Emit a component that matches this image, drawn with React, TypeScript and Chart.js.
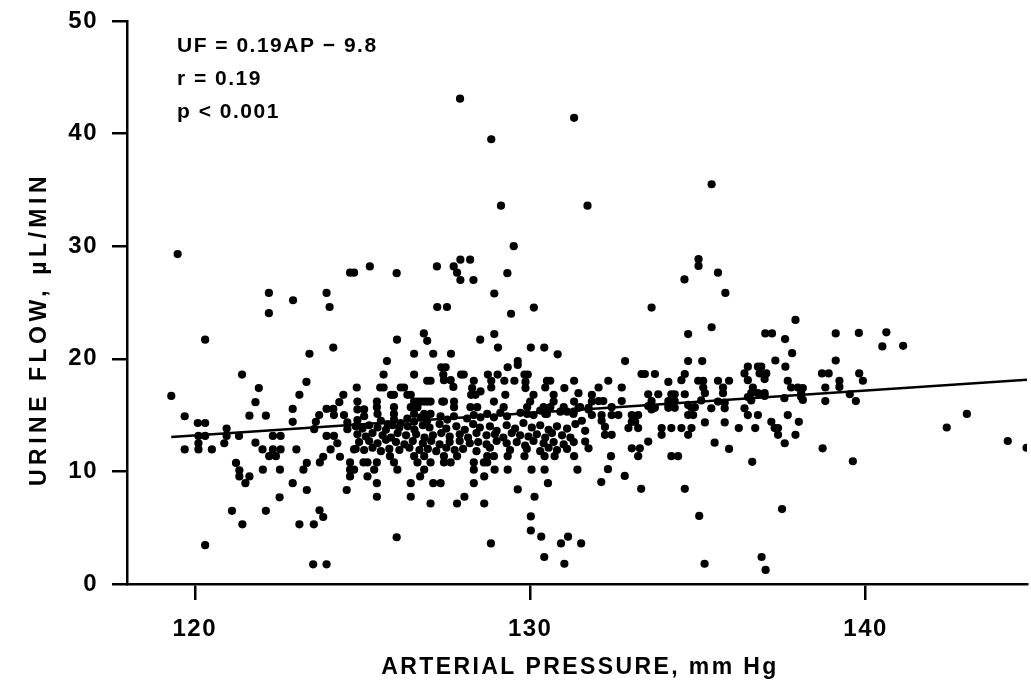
import React, { useEffect, useRef } from "react";
import { Chart, registerables } from "chart.js";

Chart.register(...registerables);

// Axis ticks and labels
const xTicks = [120, 130, 140];
const yTicks = [0, 10, 20, 30, 40, 50];
const xTitle = "ARTERIAL PRESSURE, mm Hg";
const yTitle = "URINE FLOW, µL/MIN";
const statLines = ["UF = 0.19AP − 9.8", "r = 0.19", "p < 0.001"];

// Regression line end points [AP, UF]
const fitX = [119.3, 144.85];
const fitY = [13.05, 18.15];

// Scatter points [arterial pressure, urine flow]
const highPoints: [number, number][] = [
  [127.91, 43.1], [131.31, 41.4], [128.84, 39.5], [135.41, 35.5], [129.13, 33.6], [131.71, 33.6],
  [129.51, 30.0], [119.49, 29.3],
  [124.63, 27.65], [124.75, 27.65], [125.22, 28.2], [126.02, 27.6], [127.22, 28.2], [127.72, 28.2],
  [127.82, 27.65], [127.92, 28.8], [128.21, 28.8], [127.92, 27.0], [128.31, 27.0], [129.32, 27.6],
  [135.02, 28.85], [135.02, 28.25], [135.6, 27.65], [134.6, 27.05], [135.82, 25.85],
  [122.21, 25.85], [122.21, 24.05], [122.93, 25.2], [123.93, 25.85], [124.02, 24.6], [128.93, 25.8],
  [127.23, 24.6], [127.52, 24.6], [129.43, 24.0], [130.11, 24.55], [133.62, 24.55], [137.91, 23.45],
  [135.41, 22.8],
  [120.31, 21.7], [126.03, 21.7], [126.83, 22.25], [126.93, 21.6], [128.51, 21.7], [128.93, 22.2],
  [134.71, 22.2], [137.01, 22.25], [137.21, 22.25], [137.6, 21.75], [139.11, 22.25], [139.8, 22.3],
  [140.62, 22.35], [140.5, 21.1], [141.12, 21.15],
  [123.42, 20.45], [124.13, 21.0], [129.04, 21.0], [130.02, 21.0], [130.42, 21.0], [130.82, 20.4],
  [126.54, 20.45], [127.11, 20.45], [127.64, 20.45], [137.81, 20.5],
];

const leftCluster: [number, number][] = [
  [119.3, 16.7], [119.7, 14.9], [120.09, 14.3], [120.31, 14.3], [121.41, 18.6], [121.91, 17.4],
  [121.81, 16.15], [121.63, 14.95], [122.12, 14.95], [123.33, 17.95], [123.12, 16.8], [122.92, 15.55],
  [122.92, 14.4], [123.71, 15.0], [123.61, 14.4], [123.56, 13.75], [123.93, 15.55], [124.13, 15.55],
  [124.31, 16.15], [124.43, 16.8], [124.15, 15.0], [124.45, 15.0], [124.55, 14.35], [124.55, 13.75],
  [120.95, 13.8], [120.95, 13.15], [120.88, 12.5], [120.11, 13.15], [120.11, 12.5], [120.11, 11.95],
  [120.31, 13.15], [119.7, 11.95], [120.51, 11.95], [121.32, 13.15], [121.81, 12.55], [122.33, 13.15],
  [122.56, 13.15], [122.02, 11.95], [122.33, 11.95], [122.56, 11.95], [123.03, 11.95], [123.93, 13.15],
  [124.15, 13.15], [124.05, 11.95], [124.25, 12.5], [124.75, 11.95],
];

const centerUpper: [number, number][] = [
  [125.73, 19.8], [129.63, 19.8], [129.63, 19.45], [129.33, 19.25], [125.63, 18.6], [126.54, 18.6],
  [127.35, 19.25], [127.48, 19.25], [127.41, 18.6], [127.43, 18.1], [127.63, 18.1], [127.71, 17.5],
  [127.94, 18.6], [128.02, 18.6], [126.93, 18.05], [127.03, 18.05], [128.74, 18.6], [129.03, 18.6],
  [128.84, 18.05], [129.23, 18.05], [129.53, 18.05], [129.83, 18.6], [129.93, 18.6], [129.86, 17.95],
  [129.86, 17.4], [130.5, 18.05], [130.6, 18.05], [130.45, 17.45], [131.31, 18.05], [131.02, 17.4],
  [128.32, 18.05], [128.27, 17.4], [124.83, 17.45], [125.53, 17.45], [125.63, 17.45], [126.14, 17.45],
  [126.24, 17.45], [128.84, 17.45], [128.24, 16.8], [128.37, 16.8], [128.52, 17.1], [129.26, 16.8],
  [130.1, 16.8], [130.0, 16.2], [130.7, 16.8], [130.7, 16.2], [125.85, 16.8], [125.94, 16.8],
  [126.34, 16.8], [126.44, 16.8],
  [126.54, 16.2], [126.64, 16.2], [126.74, 16.2], [126.84, 16.2], [126.93, 16.2], [127.03, 16.2],
  [127.38, 16.2], [127.43, 16.2], [127.73, 16.2], [124.85, 16.2], [125.43, 16.2], [128.92, 16.2],
  [131.31, 16.2],
  [125.43, 15.7], [125.45, 15.1], [124.85, 15.5], [125.05, 15.5], [125.94, 15.7], [125.94, 15.1],
  [126.44, 15.7], [126.64, 15.7], [126.54, 15.1], [126.84, 15.1], [127.03, 15.1], [127.73, 15.7],
  [128.22, 15.7], [128.42, 15.7], [129.21, 15.7], [129.91, 15.7], [129.91, 15.1], [130.4, 15.7],
  [130.6, 15.7], [130.45, 15.1], [131.0, 15.7], [131.1, 15.3], [131.3, 15.3], [131.49, 15.7],
  [125.05, 14.9], [124.85, 14.55],
];

const centerLine: [number, number][] = [
  [125.55, 14.5], [125.75, 14.2], [125.94, 14.6], [126.14, 14.3], [126.34, 14.7], [126.54, 14.4],
  [126.74, 14.8], [126.93, 14.5], [127.33, 14.9], [127.53, 14.6], [127.73, 14.9], [128.12, 14.7],
  [128.32, 15.0], [128.52, 14.8], [128.72, 15.1], [128.92, 14.8], [129.11, 15.2], [129.31, 14.9],
  [129.71, 15.2], [130.1, 15.0], [130.3, 15.4], [130.5, 15.1], [130.9, 15.3], [131.29, 15.1],
];

const centerLower: [number, number][] = [
  [124.8, 14.0], [125.0, 13.8], [125.2, 14.1], [125.45, 13.9], [125.7, 13.7], [125.9, 14.1],
  [126.1, 13.9], [126.35, 14.0], [126.55, 13.7], [126.8, 14.1], [127.0, 13.9], [127.3, 14.2],
  [127.5, 13.8], [127.8, 14.0], [128.05, 13.7], [128.3, 14.2], [128.5, 13.9], [128.8, 14.0],
  [129.0, 13.6], [129.3, 14.1], [129.55, 13.8], [129.8, 14.3], [130.05, 13.9], [130.3, 14.1],
  [130.55, 13.7], [130.8, 14.0], [131.1, 13.8], [131.35, 14.2],
  [124.85, 13.3], [125.1, 13.1], [125.3, 13.4], [125.6, 13.2], [125.85, 13.0], [126.05, 13.4],
  [126.3, 13.2], [126.6, 13.3], [126.85, 13.0], [127.1, 13.2], [127.35, 13.4], [127.6, 13.1],
  [127.9, 13.3], [128.15, 13.0], [128.4, 13.4], [128.7, 13.2], [128.95, 13.3], [129.2, 13.0],
  [129.45, 13.4], [129.7, 13.2], [129.95, 13.1], [130.2, 13.3], [130.45, 13.0], [130.65, 13.4],
  [130.95, 13.2], [131.2, 13.0],
  [124.9, 12.6], [125.2, 12.7], [125.45, 12.5], [125.7, 12.8], [126.0, 12.6], [126.25, 12.4],
  [126.5, 12.7], [126.8, 12.5], [127.05, 12.7], [127.3, 12.4], [127.6, 12.6], [127.9, 12.7],
  [128.2, 12.5], [128.45, 12.6], [128.7, 12.4], [129.0, 12.7], [129.3, 12.5], [129.6, 12.6],
  [129.85, 12.3], [130.1, 12.7], [130.4, 12.5], [130.7, 12.6], [131.0, 12.4], [131.3, 12.6],
  [124.8, 12.0], [125.05, 11.9], [125.3, 12.1], [125.55, 11.8], [125.8, 12.0], [126.1, 11.9],
  [126.4, 12.1], [126.7, 11.9], [126.95, 12.0], [127.2, 11.8], [127.5, 12.1], [127.75, 11.9],
  [128.0, 12.0], [128.4, 11.8], [128.8, 12.1], [129.4, 11.9], [129.9, 12.0], [130.3, 11.8],
  [130.55, 12.1], [130.8, 11.9], [131.1, 12.0],
];

const rightCluster: [number, number][] = [
  [132.83, 19.8], [134.71, 19.8], [135.13, 19.8], [137.31, 19.85], [137.61, 19.3], [136.49, 19.3],
  [136.39, 18.7], [136.79, 19.3], [136.89, 19.3], [136.84, 18.7], [137.04, 18.7], [136.99, 18.2],
  [133.32, 18.65], [133.42, 18.65], [133.72, 18.65], [134.61, 18.65], [134.51, 18.1], [132.33, 18.05],
  [134.12, 17.95], [135.01, 18.05], [135.16, 18.05], [135.16, 17.45], [135.21, 16.95], [135.6, 18.05],
  [135.93, 18.05], [135.75, 17.45], [135.75, 16.95], [136.49, 18.1], [136.64, 17.45], [136.59, 16.95],
  [136.79, 16.95], [136.99, 16.95], [137.68, 18.05], [137.78, 17.45], [137.98, 17.45], [138.08, 16.95],
  [132.04, 17.45], [132.73, 17.45], [131.44, 16.95], [131.84, 16.8], [131.84, 16.2], [132.04, 16.25],
  [132.18, 16.25], [132.73, 16.25], [133.52, 16.85], [133.82, 16.85], [133.62, 16.25], [133.72, 15.65],
  [134.21, 16.85], [134.31, 16.85], [134.61, 16.85], [134.12, 16.25], [134.31, 16.25],
  [131.44, 15.65], [131.74, 15.65], [131.84, 15.0], [134.12, 15.65], [134.31, 15.65], [134.81, 15.65],
  [134.86, 15.0], [134.71, 15.0], [135.4, 15.6], [135.8, 15.6], [136.39, 15.6], [136.49, 15.0],
  [132.13, 15.0], [132.43, 15.0], [132.63, 15.0], [133.03, 15.0], [133.22, 15.0],
  [133.03, 14.4], [133.13, 14.4], [135.21, 14.35], [135.8, 14.35], [136.79, 15.0], [137.19, 14.4],
  [137.29, 13.85], [137.68, 15.0], [138.01, 14.4], [136.22, 13.85], [136.71, 13.85], [137.39, 13.85],
  [137.39, 13.25], [137.59, 12.5], [137.91, 13.25],
  [132.93, 13.85], [133.22, 13.85], [132.43, 13.25], [132.23, 13.25], [133.92, 13.85], [134.21, 13.85],
  [134.51, 13.85], [134.81, 13.85], [133.92, 13.25], [134.71, 13.25],
  [131.64, 12.65], [131.74, 12.05], [133.52, 12.65], [133.27, 12.05], [133.03, 12.05], [135.5, 12.55],
  [135.93, 12.0], [131.54, 14.5], [132.13, 14.5], [132.23, 13.95], [131.64, 13.6],
  [131.74, 15.5], [132.43, 15.7], [133.52, 15.8], [133.62, 15.5], [134.12, 15.9], [134.71, 15.9],
  [134.91, 15.7], [135.1, 16.3], [135.6, 16.2], [135.8, 16.1], [136.49, 16.6], [136.59, 16.3],
  [136.99, 16.7], [137.58, 16.5], [138.08, 16.6],
];

const farRight: [number, number][] = [
  [139.11, 19.85], [138.7, 18.7], [138.9, 18.7], [139.81, 18.7], [139.92, 18.05], [139.22, 18.05],
  [139.22, 17.5], [138.8, 17.45], [138.13, 17.4], [138.13, 16.35], [139.53, 16.85], [138.8, 16.25],
  [139.71, 16.25], [143.02, 15.1], [142.42, 13.9], [144.24, 12.7], [144.8, 12.1], [138.72, 12.05],
  [139.62, 10.9],
];

const lowPoints: [number, number][] = [
  [120.31, 3.45], [123.53, 1.75], [123.93, 1.75], [121.11, 6.5], [122.12, 6.5], [121.42, 5.3],
  [123.12, 5.3], [123.55, 5.3], [123.72, 6.55], [123.83, 5.95], [122.53, 7.7], [122.92, 8.95],
  [123.34, 8.35], [124.53, 8.35], [121.23, 10.75], [121.33, 10.1], [121.33, 9.55], [121.51, 8.95],
  [121.63, 9.55], [122.03, 10.15], [122.54, 10.15], [123.24, 10.15], [123.34, 10.75], [123.73, 10.8],
  [123.83, 11.3], [124.33, 11.3], [124.63, 10.8], [124.63, 10.15], [124.63, 9.55], [124.75, 10.15],
  [122.22, 11.35], [122.42, 11.35],
  [126.02, 4.15], [128.83, 3.6], [130.02, 6.0], [130.02, 4.75], [130.33, 4.2], [130.42, 2.4],
  [130.92, 3.6], [131.13, 4.2], [131.02, 1.8], [129.63, 8.4], [130.13, 7.75], [127.03, 7.15],
  [127.82, 7.15], [128.04, 7.75], [128.63, 7.15], [125.43, 7.75], [126.44, 7.75], [125.43, 8.95],
  [126.44, 8.95], [127.11, 8.95], [127.33, 8.95], [128.32, 8.95], [130.53, 8.95], [125.15, 9.55],
  [126.72, 9.55], [128.63, 9.55], [125.35, 10.15], [126.04, 10.15], [126.84, 10.15], [128.32, 10.15],
  [128.94, 10.15], [129.33, 10.15], [130.04, 10.15], [130.43, 10.15], [131.41, 10.15],
  [125.03, 10.8], [125.15, 10.8], [125.43, 10.8], [125.94, 10.8], [126.64, 10.8], [127.03, 10.8],
  [127.43, 10.8], [127.63, 10.8], [128.32, 10.8], [128.62, 10.8], [128.72, 10.8],
  [125.82, 11.35], [126.54, 11.35], [126.84, 11.35], [127.43, 11.35], [127.82, 11.35], [128.72, 11.35],
  [128.92, 11.35], [129.33, 11.35], [129.83, 11.35], [130.43, 11.35], [130.73, 11.35], [131.31, 11.35],
  [132.41, 11.35], [133.22, 11.35], [134.21, 11.35], [134.41, 11.35], [136.62, 10.85], [132.32, 10.2],
  [132.82, 9.6], [132.12, 9.05], [133.31, 8.45], [134.61, 8.45], [137.51, 6.65], [135.04, 6.05],
  [131.52, 3.6], [136.9, 2.4], [135.2, 1.8], [137.02, 1.25],
];

const FONT = '"Liberation Sans", Arial, sans-serif';

const textPlugin = {
  id: "textPlugin",
  beforeDraw(chart: any) {
    (chart.ctx as any).letterSpacing = "1.5px";
  },
  afterDraw(chart: any) {
    const ctx = chart.ctx as CanvasRenderingContext2D;
    ctx.save();
    ctx.fillStyle = "#000";
    ctx.textBaseline = "middle";
    (ctx as any).letterSpacing = "1.5px";
    ctx.font = `bold 21px ${FONT}`;
    ctx.textAlign = "left";
    statLines.forEach((t, i) => ctx.fillText(t, 177, 46 + i * 33));
    (ctx as any).letterSpacing = "2.4px";
    ctx.font = `bold 23px ${FONT}`;
    ctx.textAlign = "center";
    ctx.fillText(xTitle, 580, 668);
    ctx.translate(40, 329);
    ctx.rotate(-Math.PI / 2);
    (ctx as any).letterSpacing = "4.5px";
    ctx.fillText(yTitle, 0, 0);
    ctx.restore();
  },
};

export default function App() {
  const ref = useRef<HTMLCanvasElement>(null);
  useEffect(() => {
    const canvas = ref.current;
    if (!canvas) return;
    const points = [
      ...highPoints, ...leftCluster, ...centerUpper, ...centerLine, ...centerLower,
      ...rightCluster, ...farRight, ...lowPoints,
    ].map(([x, y]) => ({ x, y }));
    const fit = fitX.map((x, i) => ({ x, y: fitY[i] }));
    const tickFont = { family: FONT, size: 24, weight: "bold" as const };
    const chart = new Chart(canvas, {
      type: "scatter",
      data: {
        datasets: [
          {
            type: "scatter",
            data: points,
            pointRadius: 4.1,
            pointBackgroundColor: "#000",
            pointBorderWidth: 0,
            pointHoverRadius: 4.1,
          },
          {
            type: "line",
            data: fit,
            borderColor: "#000",
            borderWidth: 2.5,
            pointRadius: 0,
            fill: false,
            tension: 0,
          } as any,
        ],
      },
      options: {
        animation: false,
        responsive: false,
        events: [],
        layout: { padding: { top: 21, left: 0, right: 0, bottom: 0 } },
        plugins: { legend: { display: false }, tooltip: { enabled: false } },
        scales: {
          x: {
            type: "linear",
            min: 117.98,
            max: 144.81,
            afterBuildTicks: (s: any) => {
              s.ticks = xTicks.map((v) => ({ value: v }));
            },
            afterFit: (s: any) => {
              s.height = 106;
              s.paddingLeft = 0;
              s.paddingRight = 0;
            },
            grid: {
              drawOnChartArea: false,
              drawTicks: true,
              tickLength: 16,
              color: "#000",
              lineWidth: 2.5,
            },
            border: { display: true, color: "#000", width: 2.5 },
            ticks: {
              color: "#000",
              font: tickFont,
              padding: 15,
              maxRotation: 0,
              autoSkip: false,
            },
          },
          y: {
            type: "linear",
            min: 0,
            max: 50,
            afterBuildTicks: (s: any) => {
              s.ticks = yTicks.map((v) => ({ value: v }));
            },
            afterFit: (s: any) => {
              s.width = 127;
              s.paddingTop = 0;
              s.paddingBottom = 0;
            },
            grid: {
              drawOnChartArea: false,
              drawTicks: true,
              tickLength: 15,
              color: "#000",
              lineWidth: 2.5,
            },
            border: { display: true, color: "#000", width: 2.5 },
            ticks: {
              color: "#000",
              font: tickFont,
              padding: 14,
              autoSkip: false,
            },
          },
        },
      },
      plugins: [textPlugin],
    });
    return () => chart.destroy();
  }, []);
  return (
    <div style={{ position: "absolute", left: 0, top: 0, width: 1031, height: 690, background: "#fff" }}>
      <canvas ref={ref} width={1031} height={690} />
    </div>
  );
}
